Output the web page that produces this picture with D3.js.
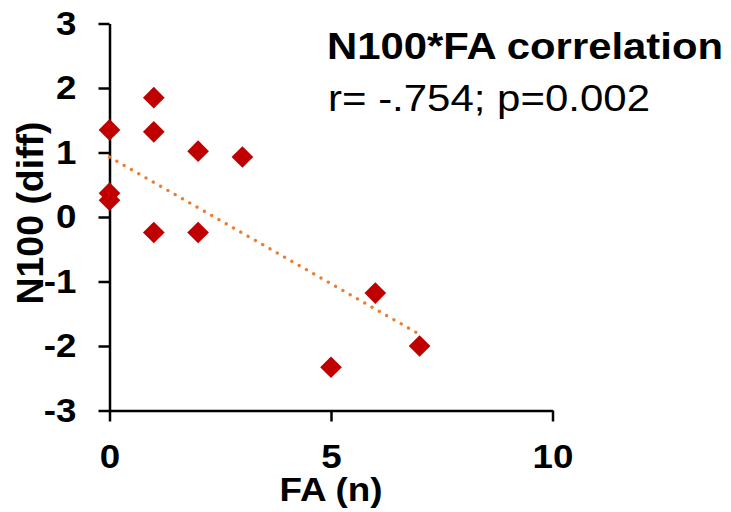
<!DOCTYPE html>
<html>
<head>
<meta charset="utf-8">
<script src="https://cdn.jsdelivr.net/npm/d3@7"></script>
<style>
  body { margin: 0; background: #fff; }
  svg text { font-family: "Liberation Sans", Arial, sans-serif; }
</style>
</head>
<body>
<svg id="chart" width="731" height="512"></svg>
<script>
// values
const faValues   = [0, 0, 0, 1, 1, 1, 2, 2, 3, 5, 6, 7];
const n100Values = [1.35, 0.37, 0.26, 1.85, 1.32, -0.24, 1.02, -0.24, 0.93, -2.33, -1.18, -2.0];
const trendX = [0, 7];
const trendY = [0.93, -1.82];
const xTicks = [0, 5, 10];
const yTicks = [-3, -2, -1, 0, 1, 2, 3];

const svg = d3.select('#chart');

const x = d3.scaleLinear().domain([0, 10]).range([109.5, 552.5]);
const y = d3.scaleLinear().domain([-3, 3]).range([410.5, 23.5]);

// y axis
const yAxis = svg.append('g')
    .attr('transform', `translate(${x(0)},0)`)
    .call(d3.axisLeft(y).tickValues(yTicks).tickSize(11).tickSizeOuter(0).tickPadding(22).tickFormat(d3.format('d')));

// x axis
const xAxis = svg.append('g')
    .attr('transform', `translate(0,${y(-3)})`)
    .call(d3.axisBottom(x).tickValues(xTicks).tickSize(11).tickSizeOuter(0).tickPadding(22));

[xAxis, yAxis].forEach(a => {
  a.selectAll('path, line').attr('stroke', '#000').attr('stroke-width', 2.5);
  a.selectAll('text')
    .attr('fill', '#000')
    .style('font-size', '34px')
    .style('font-weight', 'bold')
    .style('font-family', '"Liberation Sans", Arial, sans-serif');
});
yAxis.selectAll('text').text(d => d < 0 ? '-' + Math.abs(d) : d);

// reference glyphs are a little wider than the font
[xAxis, yAxis].forEach(a => {
  a.selectAll('text').each(function() {
    const w = this.getComputedTextLength();
    d3.select(this).attr('textLength', w * 1.08).attr('lengthAdjust', 'spacingAndGlyphs');
  });
});

// trend line
const pts = trendX.map((v, i) => [v, trendY[i]]);
svg.append('path')
    .attr('d', d3.line().x(d => x(d[0])).y(d => y(d[1]))(pts))
    .attr('fill', 'none')
    .attr('stroke', '#ED7D31')
    .attr('stroke-width', 3.3)
    .attr('stroke-linecap', 'round')
    .attr('stroke-dasharray', '0.1 8.3');

// diamonds
svg.append('g').selectAll('path')
    .data(faValues.map((v, i) => ({fa: v, n: n100Values[i]})))
    .enter()
    .append('path')
    .attr('d', d3.symbol(d3.symbolSquare, 235))
    .attr('transform', d => `translate(${x(d.fa)},${y(d.n)}) rotate(45)`)
    .attr('fill', '#C00000');

// titles
svg.append('text')
    .attr('x', 327).attr('y', 59)
    .attr('textLength', 396).attr('lengthAdjust', 'spacingAndGlyphs')
    .style('font-size', '36px').style('font-weight', 'bold')
    .text('N100*FA correlation');

svg.append('text')
    .attr('x', 328).attr('y', 111)
    .attr('textLength', 322).attr('lengthAdjust', 'spacingAndGlyphs')
    .style('font-size', '37px')
    .text('r= -.754; p=0.002');

svg.append('text')
    .attr('x', 331).attr('y', 501)
    .attr('text-anchor', 'middle')
    .attr('textLength', 103).attr('lengthAdjust', 'spacingAndGlyphs')
    .style('font-size', '33px').style('font-weight', 'bold')
    .text('FA (n)');

svg.append('text')
    .attr('transform', 'translate(43,213) rotate(-90)')
    .attr('text-anchor', 'middle')
    .attr('textLength', 183).attr('lengthAdjust', 'spacingAndGlyphs')
    .style('font-size', '36px').style('font-weight', 'bold')
    .text('N100 (diff)');
</script>
</body>
</html>
